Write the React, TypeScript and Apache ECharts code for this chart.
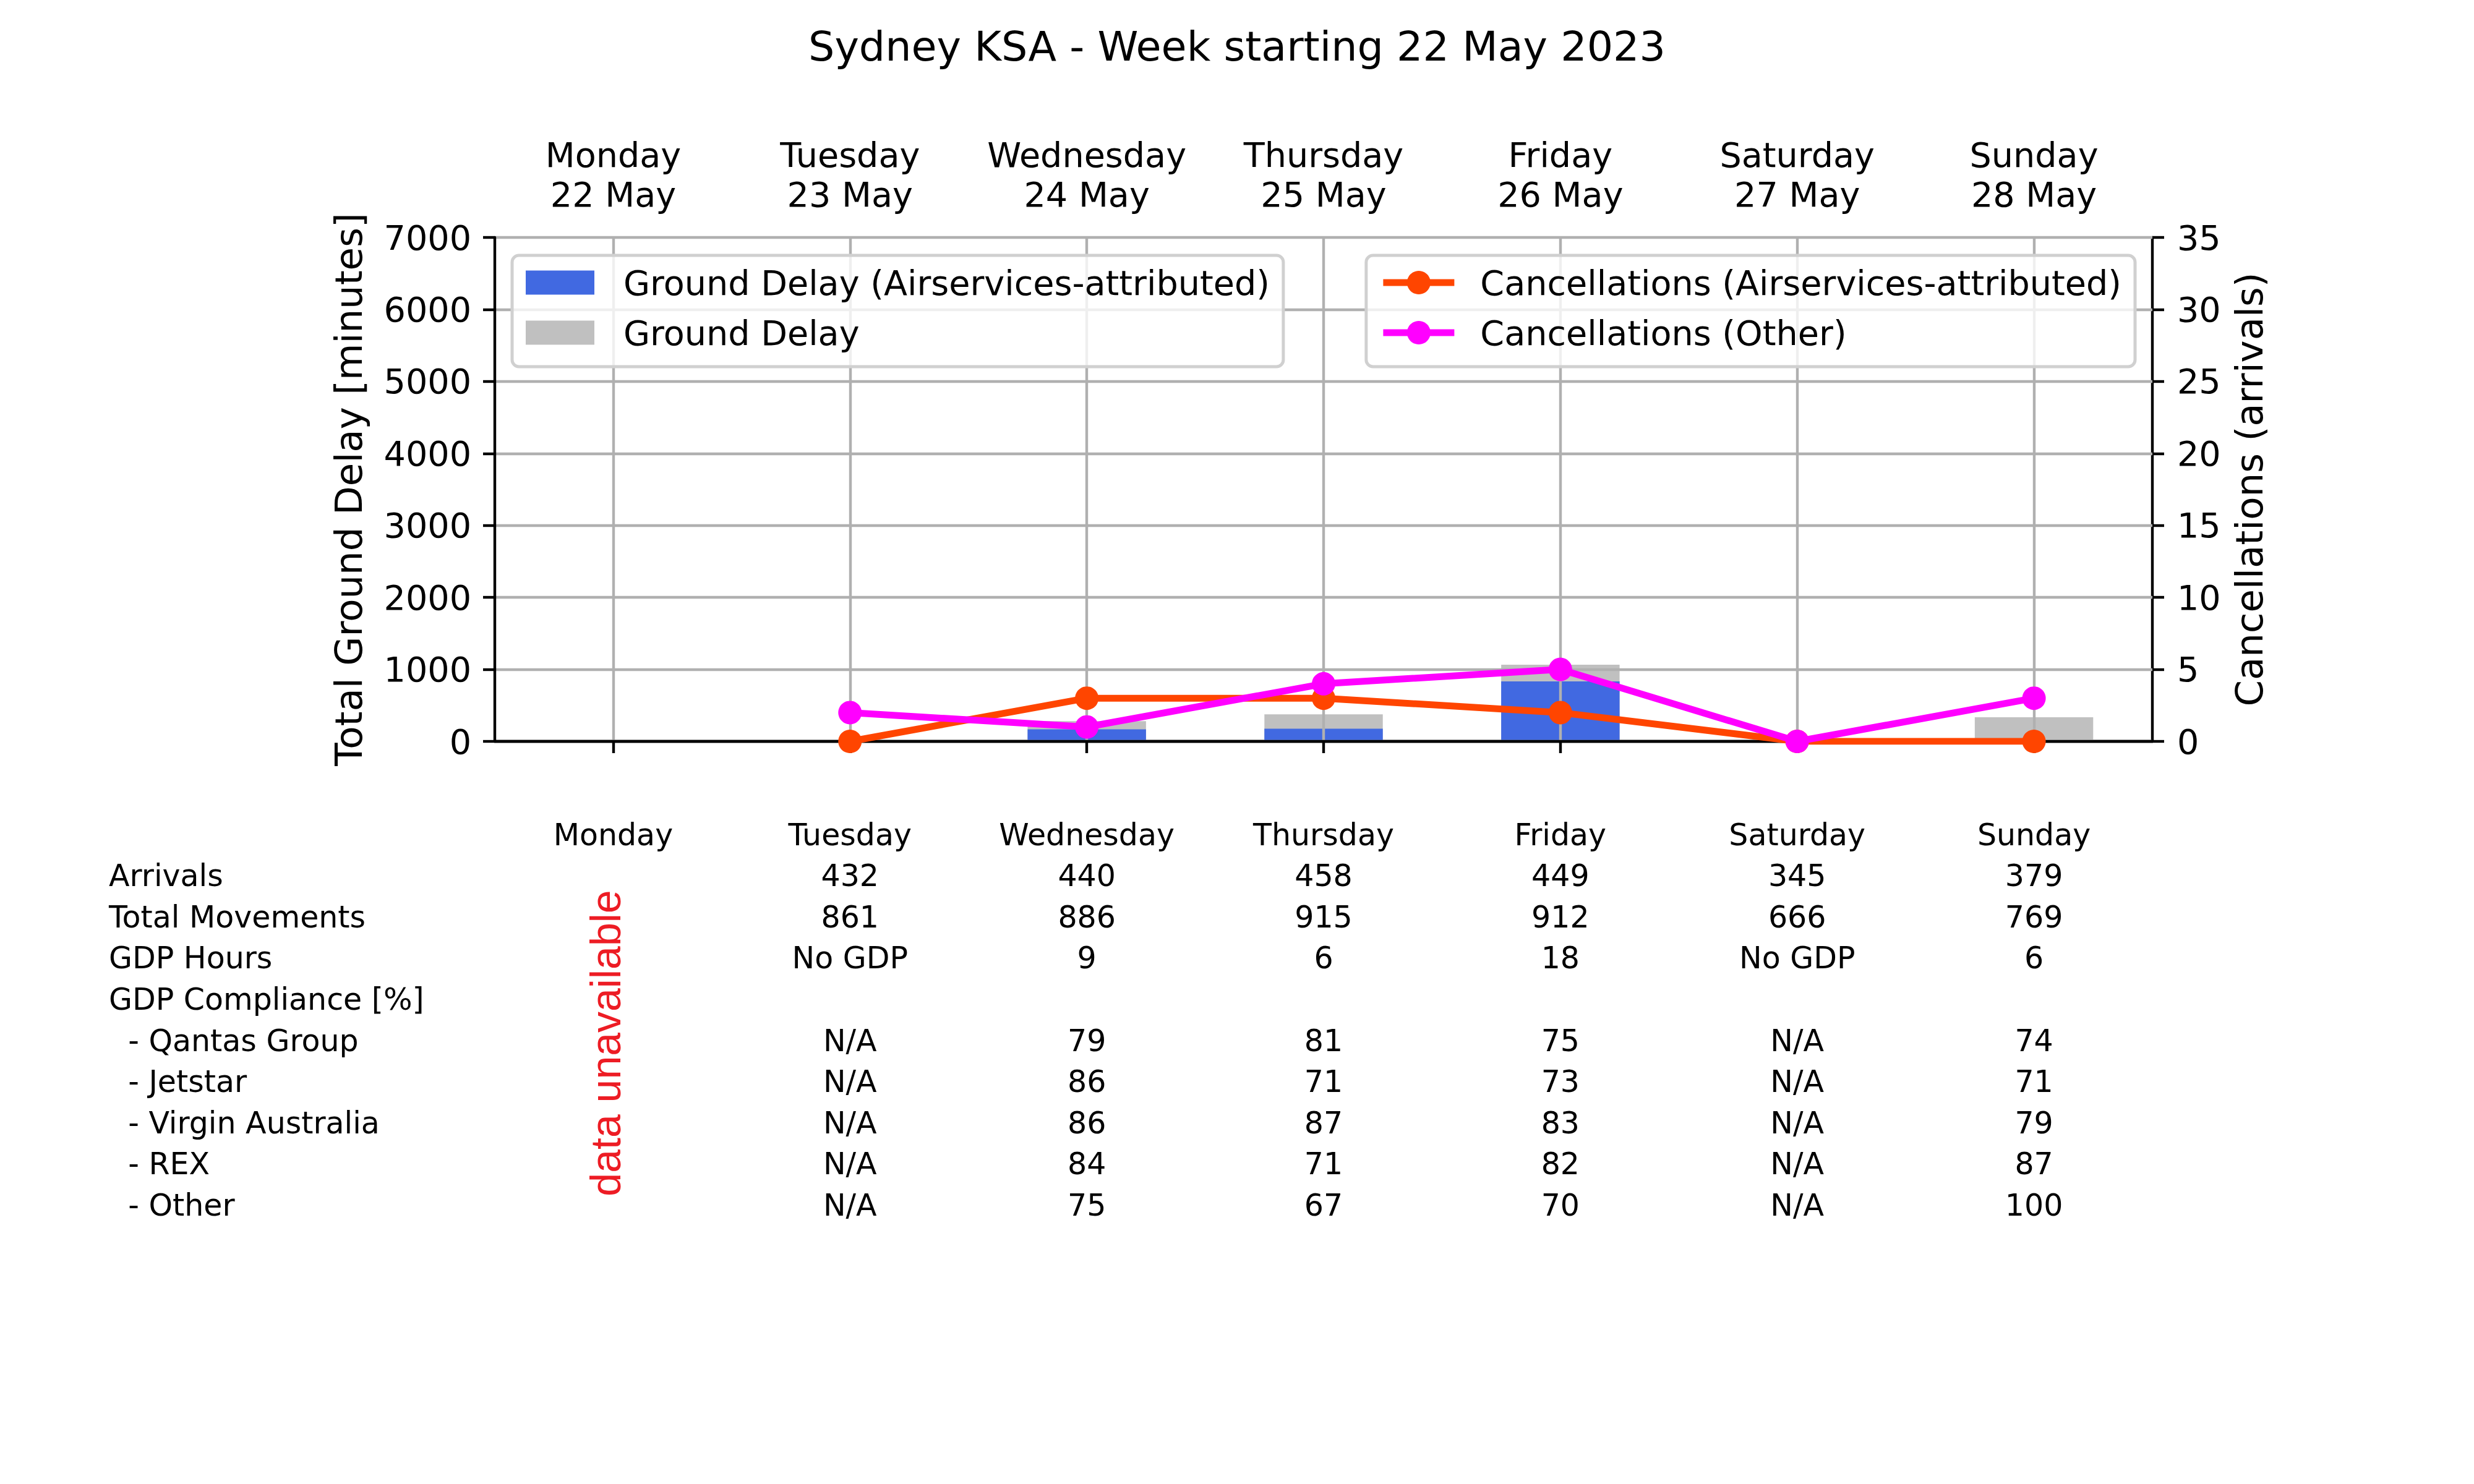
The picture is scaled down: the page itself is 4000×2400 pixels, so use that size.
import { useEffect, useRef } from 'react';
import * as echarts from 'echarts';

// --- data ---
const days = ['Monday', 'Tuesday', 'Wednesday', 'Thursday', 'Friday', 'Saturday', 'Sunday'];
const dates = ['22 May', '23 May', '24 May', '25 May', '26 May', '27 May', '28 May'];

// total ground delay [minutes] and the Airservices-attributed part
const groundDelay = [null, 0, 282, 375, 1066, 0, 334];
const groundDelayAttributed = [null, 0, 167, 176, 833, 0, 0];

// cancellations (arrivals)
const cancAttributed = [null, 0, 3, 3, 2, 0, 0];
const cancOther = [null, 2, 1, 4, 5, 0, 3];

// table below the chart
const rowLabels = [
    'Arrivals',
    'Total Movements',
    'GDP Hours',
    'GDP Compliance [%]',
    '  - Qantas Group',
    '  - Jetstar',
    '  - Virgin Australia',
    '  - REX',
    '  - Other',
];
const arrivals = ['', '432', '440', '458', '449', '345', '379'];
const movements = ['', '861', '886', '915', '912', '666', '769'];
const gdpHours = ['', 'No GDP', '9', '6', '18', 'No GDP', '6'];
const gdpCompliance = ['', '', '', '', '', '', ''];
const qantas = ['', 'N/A', '79', '81', '75', 'N/A', '74'];
const jetstar = ['', 'N/A', '86', '71', '73', 'N/A', '71'];
const virgin = ['', 'N/A', '86', '87', '83', 'N/A', '79'];
const rex = ['', 'N/A', '84', '71', '82', 'N/A', '87'];
const other = ['', 'N/A', '75', '67', '70', 'N/A', '100'];
const rowValues = [arrivals, movements, gdpHours, gdpCompliance, qantas, jetstar, virgin, rex, other];

const FONT = 'DejaVu Sans';
const FS = 55.6;   // 10pt
const NFS = 61;    // 11pt axis names
const TFS = 49;    // table text
const LW = 4.4;    // spine width

const App: React.FC = () => {
    const chartRef = useRef<HTMLDivElement | null>(null);

    useEffect(() => {
        document.body.style.margin = '0';
        if (!chartRef.current) return;
        const chart = echarts.init(chartRef.current, null, { renderer: 'svg' });

        const axisLine = { show: true, lineStyle: { color: '#000', width: LW } };
        const axisTick = { show: true, length: 19, lineStyle: { color: '#000', width: LW } };
        const gridLine = { color: '#b0b0b0', width: LW };

        chart.setOption({
            animation: false,
            backgroundColor: '#fff',
            textStyle: { fontFamily: FONT, color: '#000' },
            title: {
                text: 'Sydney KSA - Week starting 22 May 2023',
                left: 'center',
                top: 35,
                padding: 0,
                textStyle: { fontFamily: FONT, fontSize: 66.7, fontWeight: 'normal', color: '#000', lineHeight: 80 },
            },
            grid: { left: 800, top: 384, width: 2680, height: 815 },
            legend: [
                {
                    data: ['Ground Delay (Airservices-attributed)', 'Ground Delay'],
                    orient: 'vertical',
                    left: 828,
                    top: 413,
                    icon: 'rect',
                    itemWidth: 111,
                    itemHeight: 39,
                    itemGap: 25,
                    padding: [16, 22, 27, 22],
                    backgroundColor: 'rgba(255,255,255,0.8)',
                    borderColor: '#d0d0d0',
                    borderWidth: 5,
                    borderRadius: 11,
                    selectedMode: false,
                    textStyle: { fontFamily: FONT, fontSize: FS, lineHeight: 56, color: '#000', padding: [0, 0, 0, 42] },
                },
                {
                    data: ['Cancellations (Airservices-attributed)', 'Cancellations (Other)'],
                    orient: 'vertical',
                    right: 548,
                    top: 413,
                    itemWidth: 115,
                    itemHeight: 47.5,
                    itemGap: 25,
                    padding: [16, 22, 27, 22],
                    backgroundColor: 'rgba(255,255,255,0.8)',
                    borderColor: '#d0d0d0',
                    borderWidth: 5,
                    borderRadius: 11,
                    selectedMode: false,
                    lineStyle: { width: 11 },
                    textStyle: { fontFamily: FONT, fontSize: FS, lineHeight: 56, color: '#000', padding: [0, 0, 0, 37] },
                },
            ],
            xAxis: [
                {
                    type: 'category',
                    data: days,
                    position: 'bottom',
                    boundaryGap: true,
                    z: 3,
                    axisLine,
                    axisTick: { ...axisTick, alignWithLabel: true, interval: 0 },
                    axisLabel: { show: false },
                    splitLine: { show: true, alignWithLabel: true, interval: 0, lineStyle: gridLine },
                },
                {
                    type: 'category',
                    data: days,
                    position: 'top',
                    boundaryGap: true,
                    axisLine,
                    axisTick: { show: false },
                    splitLine: { show: false },
                    axisLabel: {
                        interval: 0,
                        fontFamily: FONT,
                        fontSize: FS,
                        lineHeight: 64,
                        margin: 38,
                        color: '#000',
                        formatter: (_v: string, i: number) => days[i] + '\n' + dates[i],
                    },
                },
            ],
            yAxis: [
                {
                    type: 'value',
                    min: 0,
                    max: 7000,
                    interval: 1000,
                    position: 'left',
                    z: 3,
                    name: 'Total Ground Delay [minutes]',
                    nameLocation: 'middle',
                    nameRotate: 90,
                    nameGap: 206,
                    nameTextStyle: { fontFamily: FONT, fontSize: NFS, color: '#000' },
                    axisLine,
                    axisTick,
                    axisLabel: {
                        fontFamily: FONT,
                        fontSize: FS,
                        margin: 38,
                        color: '#000',
                        formatter: (v: number) => String(v),
                    },
                    splitLine: { show: true, lineStyle: gridLine },
                },
                {
                    type: 'value',
                    min: 0,
                    max: 35,
                    interval: 5,
                    position: 'right',
                    name: 'Cancellations (arrivals)',
                    nameLocation: 'middle',
                    nameRotate: 90,
                    nameGap: 126,
                    nameTextStyle: { fontFamily: FONT, fontSize: NFS, color: '#000' },
                    axisLine,
                    axisTick,
                    axisLabel: { fontFamily: FONT, fontSize: FS, margin: 40, color: '#000' },
                    splitLine: { show: false },
                },
            ],
            series: [
                {
                    name: 'Ground Delay',
                    type: 'bar',
                    xAxisIndex: 0,
                    yAxisIndex: 0,
                    data: groundDelay,
                    barWidth: '50%',
                    barGap: '-100%',
                    itemStyle: { color: '#c0c0c0' },
                },
                {
                    name: 'Ground Delay (Airservices-attributed)',
                    type: 'bar',
                    xAxisIndex: 0,
                    yAxisIndex: 0,
                    data: groundDelayAttributed,
                    barWidth: '50%',
                    barGap: '-100%',
                    itemStyle: { color: '#4169e1' },
                },
                {
                    name: 'Cancellations (Airservices-attributed)',
                    type: 'line',
                    xAxisIndex: 0,
                    yAxisIndex: 1,
                    data: cancAttributed,
                    z: 5,
                    symbol: 'circle',
                    symbolSize: 38,
                    itemStyle: { color: '#ff4500' },
                    lineStyle: { color: '#ff4500', width: 11 },
                },
                {
                    name: 'Cancellations (Other)',
                    type: 'line',
                    xAxisIndex: 0,
                    yAxisIndex: 1,
                    data: cancOther,
                    z: 6,
                    symbol: 'circle',
                    symbolSize: 38,
                    itemStyle: { color: '#ff00ff' },
                    lineStyle: { color: '#ff00ff', width: 11 },
                },
            ],
        });

        // table under the chart, columns aligned with the day ticks
        const centers = days.map((d) => chart.convertToPixel({ xAxisIndex: 0 }, d) as number);
        const headerY = 1350;
        const rowStep = 66.6;
        const labelX = 176;
        const txt = (text: string, x: number, y: number, align = 'center') => ({
            type: 'text',
            x,
            y,
            silent: true,
            style: { text, fontFamily: FONT, fontSize: TFS, fill: '#000', align, verticalAlign: 'middle' },
        });

        const elements: any[] = [];
        days.forEach((d, i) => elements.push(txt(d, centers[i], headerY)));
        rowLabels.forEach((label, r) => {
            const y = headerY + rowStep * (r + 1);
            const indent = label.length - label.trimStart().length;
            elements.push(txt(label.trimStart(), labelX + indent * 0.318 * TFS, y, 'left'));
            rowValues[r].forEach((v, i) => {
                if (v !== '') elements.push(txt(v, centers[i], y));
            });
        });
        const midY = headerY + rowStep * (rowLabels.length + 1) / 2 + 4;
        elements.push({
            type: 'text',
            x: centers[0] - 12,
            y: midY,
            rotation: Math.PI / 2,
            silent: true,
            style: {
                text: 'data unavailable',
                fontFamily: 'Liberation Sans',
                fontSize: 68,
                fill: '#ed1c24',
                align: 'center',
                verticalAlign: 'middle',
            },
        });

        chart.setOption({ graphic: elements });

        return () => {
            chart.dispose();
        };
    }, []);

    return <div ref={chartRef} style={{ width: '4000px', height: '2400px' }} />;
};

export default App;
